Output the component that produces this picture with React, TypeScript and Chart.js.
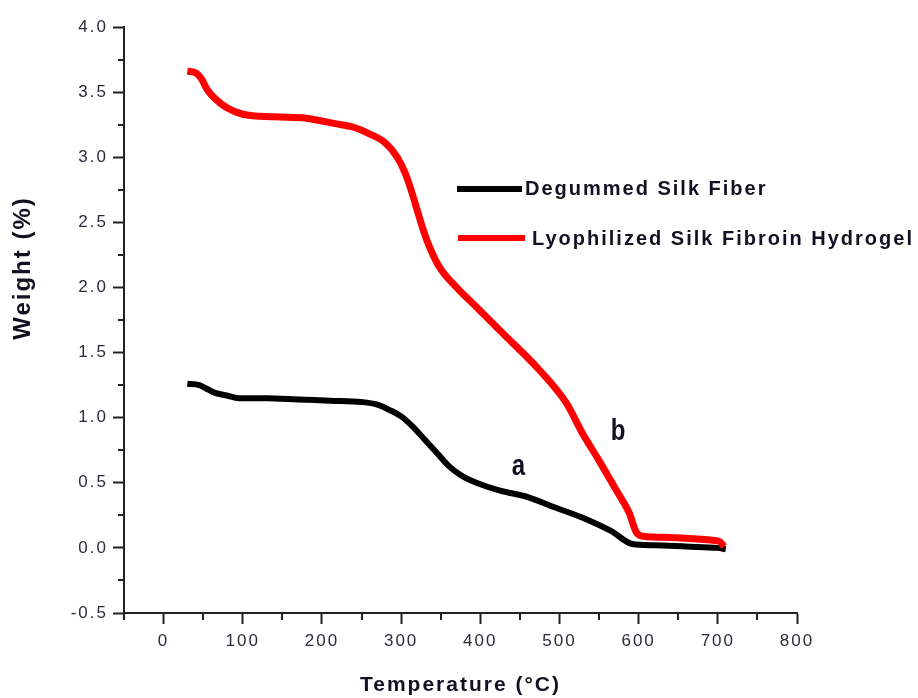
import { useEffect, useRef } from 'react';
import { Chart, registerables } from 'chart.js';

Chart.register(...registerables);

// Degummed silk fiber (curve a)
const fiberT = [30, 45, 55, 65, 80, 95, 130, 170, 210, 250, 270, 285, 300, 315, 330, 345, 360, 375, 395, 425, 460, 490, 530, 565, 592, 620, 660, 700, 710];
const fiberW = [1.26, 1.25, 1.22, 1.19, 1.17, 1.15, 1.15, 1.14, 1.13, 1.12, 1.10, 1.06, 1.01, 0.93, 0.83, 0.73, 0.63, 0.56, 0.50, 0.44, 0.39, 0.32, 0.23, 0.13, 0.03, 0.02, 0.01, 0.0, -0.01];

// Lyophilized silk fibroin hydrogel (curve b)
const gelT = [30, 40, 48, 55, 65, 80, 100, 140, 180, 215, 240, 260, 280, 295, 305, 312, 319, 327, 336, 348, 370, 395, 428, 474, 509, 529, 550, 572, 588, 597, 605, 640, 690, 702, 708];
const gelW = [3.66, 3.65, 3.60, 3.52, 3.45, 3.38, 3.33, 3.31, 3.30, 3.26, 3.23, 3.18, 3.11, 3.00, 2.88, 2.76, 2.62, 2.46, 2.31, 2.16, 2.00, 1.85, 1.65, 1.37, 1.11, 0.88, 0.67, 0.44, 0.27, 0.12, 0.09, 0.08, 0.06, 0.05, 0.01];

const SERIES_LABELS = ['Degummed Silk Fiber', 'Lyophilized Silk Fibroin Hydrogel'];
const X_TICKS = [0, 100, 200, 300, 400, 500, 600, 700, 800];
const Y_TICKS = [-0.5, 0, 0.5, 1, 1.5, 2, 2.5, 3, 3.5, 4];
const X_MINOR = [-50, 50, 150, 250, 350, 450, 550, 650, 750];
const Y_MINOR = [-0.25, 0.25, 0.75, 1.25, 1.75, 2.25, 2.75, 3.25, 3.75];
const MARK_LABELS = ['a', 'b'];
const MARK_T = [448, 574];
const MARK_W = [0.62, 0.89];

const X_TITLE = 'Temperature (°C)';
const Y_TITLE = 'Weight (%)';

const FONT = "'Liberation Sans', Arial, Helvetica, sans-serif";

const spacingPlugin = {
  id: 'spacing',
  beforeLayout(chart: any) {
    chart.ctx.letterSpacing = '2px';
  },
  beforeDraw(chart: any) {
    chart.ctx.letterSpacing = '2px';
  },
};

const decorPlugin = {
  id: 'decor',
  afterDraw(chart: any) {
    const { ctx, chartArea } = chart;
    const x = chart.scales.x;
    const y = chart.scales.y;
    ctx.save();
    // minor ticks
    ctx.strokeStyle = '#222';
    ctx.lineWidth = 2;
    Y_MINOR.forEach((v) => {
      const py = Math.round(y.getPixelForValue(v));
      ctx.beginPath();
      ctx.moveTo(chartArea.left - 6, py);
      ctx.lineTo(chartArea.left, py);
      ctx.stroke();
    });
    X_MINOR.forEach((v) => {
      const px = Math.round(x.getPixelForValue(v));
      ctx.beginPath();
      ctx.moveTo(px, chartArea.bottom);
      ctx.lineTo(px, chartArea.bottom + 7);
      ctx.stroke();
    });

    // legend
    ctx.lineWidth = 6;
    ctx.strokeStyle = '#000000';
    ctx.beginPath();
    ctx.moveTo(457, 189);
    ctx.lineTo(522, 189);
    ctx.stroke();
    ctx.strokeStyle = '#ff0000';
    ctx.beginPath();
    ctx.moveTo(458, 238);
    ctx.lineTo(525, 238);
    ctx.stroke();

    ctx.fillStyle = '#111122';
    ctx.font = `bold 20px ${FONT}`;
    ctx.letterSpacing = '2px';
    ctx.textAlign = 'left';
    ctx.textBaseline = 'middle';
    ctx.fillText(SERIES_LABELS[0], 525, 189);
    ctx.fillText(SERIES_LABELS[1], 532, 239);

    // y title
    ctx.save();
    ctx.translate(23, 268);
    ctx.rotate(-Math.PI / 2);
    ctx.font = `bold 24px ${FONT}`;
    ctx.textAlign = 'center';
    ctx.textBaseline = 'middle';
    ctx.fillText(Y_TITLE, 0, 0);
    ctx.restore();

    // curve marks
    MARK_LABELS.forEach((lbl, i) => {
      const px = x.getPixelForValue(MARK_T[i]);
      const py = y.getPixelForValue(MARK_W[i]);
      ctx.save();
      ctx.translate(px, py);
      ctx.scale(1, 1.25);
      ctx.font = `bold 24px ${FONT}`;
      ctx.letterSpacing = '0px';
      ctx.textAlign = 'center';
      ctx.textBaseline = 'middle';
      ctx.fillText(lbl, 0, 0);
      ctx.restore();
    });
    ctx.restore();
  },
};

export default function App() {
  const ref = useRef<HTMLCanvasElement | null>(null);

  useEffect(() => {
    if (!ref.current) return;
    Chart.defaults.font.family = FONT;
    const chart = new Chart(ref.current, {
      type: 'line',
      data: {
        datasets: [
          {
            label: SERIES_LABELS[1],
            data: gelT.map((t, i) => ({ x: t, y: gelW[i] })),
            borderColor: '#ff0000',
            backgroundColor: '#ff0000',
            borderWidth: 7,
            pointRadius: 0,
            cubicInterpolationMode: 'monotone',
            fill: false,
            order: 0,
          },
          {
            label: SERIES_LABELS[0],
            data: fiberT.map((t, i) => ({ x: t, y: fiberW[i] })),
            borderColor: '#000000',
            backgroundColor: '#000000',
            borderWidth: 6,
            pointRadius: 0,
            cubicInterpolationMode: 'monotone',
            fill: false,
            order: 1,
          },
        ],
      },
      options: {
        animation: false,
        responsive: false,
        devicePixelRatio: 1,
        layout: { padding: { left: 0, right: 121, top: 27, bottom: 0 } },
        plugins: { legend: { display: false }, tooltip: { enabled: false } },
        scales: {
          x: {
            type: 'linear',
            min: -50,
            max: 800,
            afterBuildTicks: (s: any) => {
              s.ticks = X_TICKS.map((v) => ({ value: v }));
            },
            afterFit: (s: any) => {
              s.height = 85;
            },
            grid: {
              display: true,
              drawOnChartArea: false,
              drawTicks: true,
              tickLength: 11,
              tickWidth: 2,
              tickColor: '#222',
            },
            border: { display: true, color: '#222', width: 2 },
            ticks: {
              color: '#2b2b3b',
              font: { size: 17 },
              padding: 7,
              maxRotation: 0,
              autoSkip: false,
              callback: (v: any) => String(v),
            },
            title: {
              display: true,
              text: X_TITLE,
              color: '#111122',
              font: { size: 21, weight: 'bold' },
              padding: { top: 0, bottom: 0 },
            },
          },
          y: {
            type: 'linear',
            min: -0.5,
            max: 4,
            afterBuildTicks: (s: any) => {
              s.ticks = Y_TICKS.map((v) => ({ value: v }));
            },
            afterFit: (s: any) => {
              s.width = 124;
            },
            grid: {
              display: true,
              drawOnChartArea: false,
              drawTicks: true,
              tickLength: 11,
              tickWidth: 2,
              tickColor: '#222',
            },
            border: { display: true, color: '#222', width: 2 },
            ticks: {
              color: '#2b2b3b',
              font: { size: 17 },
              padding: 5,
              autoSkip: false,
              callback: (v: any) => Number(v).toFixed(1),
            },
          },
        },
      },
      plugins: [spacingPlugin, decorPlugin],
    } as any);
    return () => chart.destroy();
  }, []);

  return (
    <div style={{ position: 'fixed', left: 0, top: 0, width: 918, height: 698, background: '#fff' }}>
      <canvas ref={ref} width={918} height={698} style={{ display: 'block' }} />
    </div>
  );
}
